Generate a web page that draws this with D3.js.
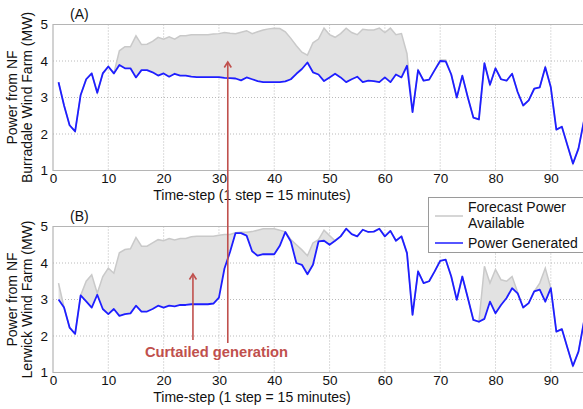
<!DOCTYPE html>
<html>
<head>
<meta charset="utf-8">
<script src="https://cdn.jsdelivr.net/npm/d3@7"></script>
<style>
  html, body { margin: 0; padding: 0; background: #fff; }
  svg { display: block; }
  text { font-family: "Liberation Sans", Arial, sans-serif; }
</style>
</head>
<body>
<svg id="chart" width="583" height="409"></svg>
<script>
// ---------- DATA ----------
const steps = d3.range(1, 97);
const xTicks = [0, 10, 20, 30, 40, 50, 60, 70, 80, 90];
const yTicks = [1, 2, 3, 4, 5];

const burradaleGenerated = [
  3.42, 2.78, 2.24, 2.07, 3.07, 3.50, 3.66, 3.13, 3.66, 3.85,
  3.66, 3.89, 3.80, 3.80, 3.55, 3.75, 3.75, 3.69, 3.60, 3.66,
  3.57, 3.65, 3.60, 3.60, 3.57, 3.56, 3.56, 3.56, 3.56, 3.56,
  3.54, 3.53, 3.52, 3.47, 3.55, 3.50, 3.45, 3.42, 3.42, 3.42,
  3.42, 3.44, 3.50, 3.65, 3.78, 3.96, 3.69, 3.63, 3.45, 3.55,
  3.65, 3.55, 3.42, 3.50, 3.57, 3.42, 3.46, 3.45, 3.42, 3.55,
  3.42, 3.63, 3.55, 3.87, 2.60, 3.75, 3.46, 3.49, 3.75, 4.00,
  3.99, 3.63, 3.00, 3.60, 3.00, 2.45, 2.40, 3.94, 3.35, 3.80,
  3.50, 3.46, 3.65, 3.15, 2.78, 2.92, 3.24, 3.28, 3.83, 3.28,
  2.12, 2.20, 1.69, 1.19, 1.60, 2.37
];
const burradaleForecast = [
  3.42, 2.78, 2.24, 2.07, 3.07, 3.50, 3.66, 3.13, 3.66, 3.85,
  3.66, 4.28, 4.39, 4.39, 4.69, 4.45, 4.46, 4.54, 4.65, 4.60,
  4.66, 4.60, 4.69, 4.69, 4.72, 4.72, 4.72, 4.72, 4.74, 4.75,
  4.78, 4.76, 4.75, 4.79, 4.83, 4.75, 4.80, 4.85, 4.88, 4.90,
  4.89, 4.80, 4.62, 4.42, 4.24, 4.16, 4.50, 4.60, 4.90, 4.72,
  4.65, 4.75, 4.90, 4.78, 4.72, 4.87, 4.85, 4.85, 4.90, 4.78,
  4.90, 4.72, 4.75, 4.20, 2.60, 3.75, 3.46, 3.49, 3.75, 4.03,
  4.03, 3.63, 3.00, 3.60, 3.00, 2.45, 2.40, 3.94, 3.35, 3.80,
  3.50, 3.46, 3.65, 3.15, 2.78, 2.92, 3.24, 3.28, 3.83, 3.28,
  2.12, 2.20, 1.69, 1.19, 1.60, 2.37
];
const lerwickGenerated = [
  3.00, 2.78, 2.23, 2.06, 3.11, 2.95, 2.78, 3.13, 2.74, 2.60,
  2.74, 2.55, 2.60, 2.62, 2.83, 2.67, 2.67, 2.74, 2.83, 2.78,
  2.83, 2.81, 2.85, 2.85, 2.87, 2.87, 2.87, 2.87, 2.89, 3.05,
  3.85, 4.30, 4.82, 4.82, 4.75, 4.32, 4.20, 4.24, 4.24, 4.24,
  4.47, 4.85, 4.59, 4.00, 3.95, 3.69, 3.95, 4.59, 4.61, 4.50,
  4.61, 4.73, 4.94, 4.79, 4.73, 4.91, 4.85, 4.86, 4.94, 4.73,
  4.88, 4.61, 4.73, 4.27, 2.58, 3.77, 3.45, 3.50, 3.77, 4.06,
  4.09, 3.63, 2.99, 3.63, 3.04, 2.44, 2.39, 2.47, 2.94, 2.62,
  2.85, 3.04, 3.31, 3.17, 2.78, 2.90, 3.22, 3.27, 2.94, 3.31,
  2.12, 2.19, 1.68, 1.18, 1.57, 2.40
];
const lerwickForecast = [
  3.45, 2.78, 2.23, 2.06, 3.11, 3.50, 3.68, 3.17, 3.63, 3.86,
  3.72, 4.28, 4.37, 4.39, 4.70, 4.46, 4.46, 4.55, 4.64, 4.61,
  4.67, 4.63, 4.67, 4.67, 4.72, 4.73, 4.73, 4.73, 4.73, 4.76,
  4.78, 4.78, 4.83, 4.84, 4.84, 4.86, 4.90, 4.94, 4.94, 4.94,
  4.90, 4.85, 4.64, 4.50, 4.36, 4.20, 4.55, 4.64, 4.90, 4.75,
  4.61, 4.73, 4.94, 4.79, 4.73, 4.91, 4.85, 4.86, 4.94, 4.73,
  4.88, 4.61, 4.73, 4.27, 2.58, 3.77, 3.45, 3.50, 3.77, 4.06,
  4.09, 3.63, 2.99, 3.63, 3.04, 2.44, 2.39, 3.91, 3.45, 3.82,
  3.54, 3.50, 3.63, 3.20, 2.78, 2.90, 3.22, 3.45, 3.86, 3.31,
  2.12, 2.19, 1.68, 1.18, 1.57, 2.40
];

const panels = [
  { tag: "(A)", label2: "Burradale Wind Farm (MW)", gen: burradaleGenerated, fc: burradaleForecast },
  { tag: "(B)", label2: "Lerwick Wind Farm (MW)", gen: lerwickGenerated, fc: lerwickForecast }
];
const xTitle = "Time-step (1 step = 15 minutes)";
const legendLabels = [["Forecast Power", "Available"], ["Power Generated"]];
const annotation = "Curtailed generation";

// ---------- LAYOUT ----------
const svg = d3.select("#chart");
const left = 53, right = 584;
const panelBoxes = [{ top: 24.5, bottom: 170.5 }, { top: 226.5, bottom: 372.5 }];
const x = d3.scaleLinear().domain([0, 96]).range([left, right]);

const genColor = "#1e1eff";
const fcLine = "#c9c9c9";
const fcFill = "#e2e2e2";
const frameColor = "#b5b5b5";
const gridColor = "#a8a8a8";
const redColor = "#c0504d";

const yScales = [];

panels.forEach((p, i) => {
  const box = panelBoxes[i];
  const y = d3.scaleLinear().domain([1, 5]).range([box.bottom, box.top]);
  yScales.push(y);
  const g = svg.append("g");

  const clipId = "clip" + i;
  svg.append("clipPath").attr("id", clipId)
    .append("rect").attr("x", left).attr("y", box.top - 1)
    .attr("width", right - left).attr("height", box.bottom - box.top + 2);

  // grid
  g.append("g").selectAll("line").data(xTicks.filter(d => d > 0)).join("line")
    .attr("x1", d => x(d)).attr("x2", d => x(d))
    .attr("y1", box.top).attr("y2", box.bottom)
    .attr("stroke", gridColor).attr("stroke-width", 0.8).attr("stroke-dasharray", "1,2");
  g.append("g").selectAll("line").data(yTicks.filter(d => d > 1 && d < 5)).join("line")
    .attr("x1", left).attr("x2", right)
    .attr("y1", d => y(d)).attr("y2", d => y(d))
    .attr("stroke", gridColor).attr("stroke-width", 0.8).attr("stroke-dasharray", "1,2");

  const rows = steps.map((t, k) => ({ t, gen: p.gen[k], fc: p.fc[k] }));
  const plot = g.append("g").attr("clip-path", `url(#${clipId})`);

  plot.append("path").datum(rows)
    .attr("d", d3.area().x(d => x(d.t)).y0(d => y(d.gen)).y1(d => y(Math.max(d.fc, d.gen))))
    .attr("fill", fcFill).attr("stroke", "none");
  plot.append("path").datum(rows)
    .attr("d", d3.line().x(d => x(d.t)).y(d => y(d.fc)))
    .attr("fill", "none").attr("stroke", fcLine).attr("stroke-width", 1.5);
  plot.append("path").datum(rows)
    .attr("d", d3.line().x(d => x(d.t)).y(d => y(d.gen)))
    .attr("fill", "none").attr("stroke", genColor).attr("stroke-width", 1.8)
    .attr("stroke-linejoin", "round");

  // frame
  g.append("path")
    .attr("d", `M${right},${box.top}H${left}V${box.bottom}H${right}`)
    .attr("fill", "none").attr("stroke", frameColor).attr("stroke-width", 1.2);

  // axes (tick labels)
  const xAxis = d3.axisBottom(x).tickValues(xTicks).tickSize(0).tickPadding(3).tickFormat(d3.format("d"));
  const xa = g.append("g").attr("transform", `translate(0,${box.bottom})`).call(xAxis);
  xa.select(".domain").remove();
  xa.selectAll("text").attr("font-size", 13.5).attr("fill", "#111").attr("font-family", "Liberation Sans, Arial, sans-serif");

  const yAxis = d3.axisLeft(y).tickValues(yTicks).tickSize(0).tickPadding(5).tickFormat(d3.format("d"));
  const ya = g.append("g").attr("transform", `translate(${left},0)`).call(yAxis);
  ya.select(".domain").remove();
  ya.selectAll("text").attr("font-size", 13.5).attr("fill", "#111").attr("font-family", "Liberation Sans, Arial, sans-serif");

  // x title
  g.append("text").attr("x", 252).attr("y", box.bottom + 29)
    .attr("text-anchor", "middle").attr("font-size", 14).attr("fill", "#111")
    .text(xTitle);

  // y title (two lines)
  const cy = (box.top + box.bottom) / 2;
  g.append("text").attr("transform", `translate(17,${cy}) rotate(-90)`)
    .attr("text-anchor", "middle").attr("font-size", 14).attr("fill", "#111")
    .text("Power from NF");
  g.append("text").attr("transform", `translate(32,${cy}) rotate(-90)`)
    .attr("text-anchor", "middle").attr("font-size", 14).attr("fill", "#111")
    .text(p.label2);

  // panel tag
  g.append("text").attr("x", 70).attr("y", box.top - 6)
    .attr("font-size", 14).attr("fill", "#111").text(p.tag);
});

// ---------- LEGEND ----------
const lg = svg.append("g");
lg.append("rect").attr("x", 428.5).attr("y", 197.5).attr("width", 155).attr("height", 55)
  .attr("fill", "#fff").attr("stroke", "#9a9a9a").attr("stroke-width", 1);
lg.append("line").attr("x1", 435).attr("x2", 463).attr("y1", 216).attr("y2", 216)
  .attr("stroke", fcLine).attr("stroke-width", 1.5);
lg.append("text").attr("x", 468).attr("y", 212).attr("font-size", 14).attr("fill", "#111").text(legendLabels[0][0]);
lg.append("text").attr("x", 468).attr("y", 228).attr("font-size", 14).attr("fill", "#111").text(legendLabels[0][1]);
lg.append("line").attr("x1", 435).attr("x2", 463).attr("y1", 243).attr("y2", 243)
  .attr("stroke", genColor).attr("stroke-width", 1.5);
lg.append("text").attr("x", 468).attr("y", 248).attr("font-size", 14).attr("fill", "#111").text(legendLabels[1][0]);

// ---------- ANNOTATION ----------
const yA = yScales[0], yB = yScales[1];
function arrow(xv, yTop, yBottom) {
  const ax = x(xv);
  svg.append("line").attr("x1", ax).attr("x2", ax).attr("y1", yTop).attr("y2", yBottom)
    .attr("stroke", redColor).attr("stroke-width", 1.6);
  svg.append("path")
    .attr("d", `M${ax - 3.5},${yTop + 5.5}L${ax},${yTop}L${ax + 3.5},${yTop + 5.5}`)
    .attr("fill", "none").attr("stroke", redColor).attr("stroke-width", 1.6);
}
arrow(31.6, yA(4.0) + 1, 343);
arrow(25.3, yB(3.7), 340);
svg.append("text").attr("x", 145).attr("y", 357)
  .attr("font-family", "Open Sans, Liberation Sans, sans-serif")
  .attr("font-weight", "bold").attr("font-size", 14.5)
  .attr("textLength", 143).attr("lengthAdjust", "spacingAndGlyphs")
  .attr("fill", redColor).text(annotation);
</script>
</body>
</html>
